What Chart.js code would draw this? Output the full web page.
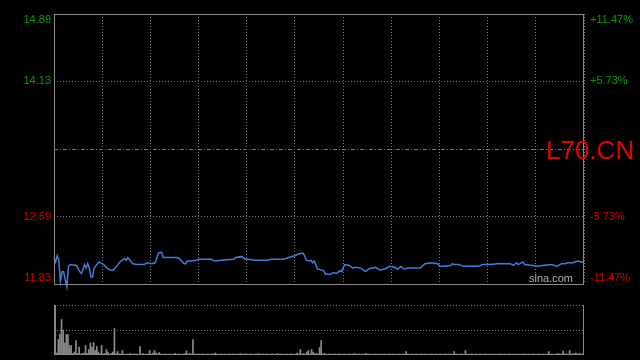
<!DOCTYPE html>
<html>
<head>
<meta charset="utf-8">
<script src="https://cdn.jsdelivr.net/npm/chart.js@4.4.1/dist/chart.umd.min.js"></script>
<style>
  body { margin: 0; background: #000; }
  #wrap { position: relative; width: 640px; height: 360px; background: #000; }
  canvas { position: absolute; left: 0; top: 0; }
</style>
</head>
<body>
<div id="wrap">
  <canvas id="priceChart" width="640" height="360"></canvas>
  <canvas id="volChart" width="640" height="360"></canvas>
</div>
<script>
// intraday minutes (0 = open, 330 = close) and prices
const priceMinutes = [
  0, 1, 2, 3, 4, 5, 6, 7, 8, 9, 10, 14, 16, 17, 18, 19, 20, 21, 22, 23, 24, 25, 28, 31, 33, 35, 37, 39, 41, 44,
  45, 46, 49, 52, 56, 58, 61, 63, 65, 67, 68, 76, 78, 81, 82, 83, 85, 89, 90, 93, 98, 100, 104, 112, 113, 117, 119, 121, 125, 133,
  135, 143, 146, 150, 152, 155, 156, 157, 159, 160, 161, 162, 163, 164, 166, 168, 169, 172, 174, 176, 178, 179, 181, 184, 186, 188, 191, 194, 196, 200,
  203, 206, 209, 212, 214, 216, 218, 221, 228, 231, 235, 239, 240, 243, 247, 248, 249, 252, 255, 260, 264, 267, 272, 276, 284, 286, 288, 289, 292, 293,
  298, 301, 304, 310, 313, 316, 318, 320, 323, 326, 328, 330
];
const priceValues = [
  12.13, 12.08, 12.15, 12.10, 11.86, 11.97, 11.97, 11.88, 11.80, 12.03, 12.05, 12.04, 11.97, 11.95, 11.99, 12.05, 12.01, 12.06, 12.01, 11.91, 11.91, 12.01, 12.08, 12.05, 12.01, 11.99, 11.99, 12.03, 12.08, 12.12,
  12.10, 12.13, 12.06, 12.05, 12.05, 12.07, 12.06, 12.07, 12.18, 12.19, 12.13, 12.13, 12.12, 12.06, 12.06, 12.09, 12.09, 12.10, 12.11, 12.11, 12.11, 12.09, 12.10, 12.11, 12.13, 12.14, 12.11, 12.11, 12.10, 12.10,
  12.11, 12.11, 12.13, 12.15, 12.17, 12.18, 12.15, 12.10, 12.09, 12.10, 12.07, 12.09, 12.05, 12.00, 11.99, 11.98, 11.94, 11.94, 11.96, 11.95, 11.98, 11.97, 12.05, 12.04, 12.01, 12.02, 12.01, 11.97, 12.00, 12.02,
  11.99, 12.00, 12.03, 12.02, 12.00, 12.03, 12.00, 12.01, 12.01, 12.06, 12.07, 12.06, 12.03, 12.03, 12.04, 12.06, 12.05, 12.05, 12.03, 12.03, 12.03, 12.05, 12.05, 12.06, 12.06, 12.04, 12.07, 12.05, 12.08, 12.05,
  12.04, 12.03, 12.04, 12.05, 12.03, 12.06, 12.06, 12.07, 12.07, 12.09, 12.08, 12.08
];

// volume per minute, relative (first minute = 100)
const volumes = [
  100, 4, 31, 42, 71, 50, 24, 41, 41, 19, 19, 3, 6, 29, 3, 16, 2, 3, 4, 19, 3, 11, 24, 16, 25, 9, 17, 6, 3, 19,
  2, 3, 11, 6, 2, 3, 6, 53, 3, 7, 2, 2, 9, 2, 1, 2, 2, 3, 1, 2, 2, 2, 1, 17, 2, 3, 2, 1, 2, 9,
  2, 4, 9, 4, 2, 5, 2, 1, 2, 2, 1, 2, 2, 1, 2, 3, 1, 2, 2, 1, 2, 3, 8, 2, 3, 2, 31, 2, 1, 2,
  2, 1, 2, 2, 1, 2, 2, 1, 2, 2, 4, 2, 1, 2, 2, 1, 2, 1, 2, 2, 1, 2, 2, 1, 2, 2, 3, 1, 2, 2,
  2, 1, 2, 2, 1, 2, 2, 3, 1, 2, 2, 1, 2, 2, 1, 2, 2, 1, 2, 3, 1, 2, 2, 1, 2, 2, 1, 2, 2, 1,
  2, 4, 2, 11, 2, 3, 2, 6, 9, 2, 11, 6, 2, 3, 2, 15, 29, 2, 3, 2, 1, 2, 2, 1, 2, 2, 1, 2, 2, 1,
  2, 2, 1, 2, 2, 1, 2, 3, 1, 2, 2, 1, 2, 2, 3, 1, 2, 2, 1, 2, 2, 1, 2, 2, 1, 2, 2, 1, 2, 2,
  1, 2, 2, 1, 2, 2, 1, 2, 2, 7, 2, 1, 2, 2, 1, 2, 2, 1, 2, 2, 1, 2, 2, 1, 2, 2, 1, 2, 2, 1,
  2, 2, 1, 2, 2, 1, 2, 2, 1, 7, 2, 2, 1, 2, 2, 1, 9, 2, 1, 2, 2, 1, 2, 2, 1, 2, 2, 1, 2, 2,
  1, 2, 2, 1, 2, 2, 1, 2, 2, 1, 2, 2, 1, 2, 2, 1, 2, 2, 1, 2, 2, 1, 2, 2, 1, 2, 2, 1, 2, 2,
  1, 2, 2, 1, 2, 2, 1, 2, 7, 2, 2, 1, 2, 2, 3, 2, 2, 8, 2, 2, 2, 9, 2, 2, 3, 4, 2, 3, 2, 2,
  3
];

const prevClose = 13.36;
const priceTicks = [14.89, 14.13, 13.36, 12.59, 11.83];
const priceLabels = ['14.89', '14.13', '', '12.59', '11.83'];
const pctLabels = ['+11.47%', '+5.73%', '', '-5.73%', '-11.47%'];

const GREEN = '#00a000';
const RED = '#dd0000';
const GRID = '#7a7a7a';
const FONT = '11px "Liberation Sans", Arial, sans-serif';

function zeroWidth(s) { s.width = 0; }
function zeroHeight(s) { s.height = 0; }

const priceDecor = {
  id: 'priceDecor',
  afterDraw(chart) {
    const c = chart.ctx, a = chart.chartArea, y = chart.scales.y;
    c.save();
    // frame
    c.strokeStyle = '#8a8a8a';
    c.lineWidth = 1;
    c.strokeRect(a.left + 0.5, a.top + 0.5, a.right - a.left - 1, a.bottom - a.top);
    // previous close line
    const mid = Math.round(y.getPixelForValue(prevClose)) + 0.5;
    c.setLineDash([4, 2, 1, 2]);
    c.strokeStyle = GRID;
    c.beginPath(); c.moveTo(a.left, mid); c.lineTo(a.right, mid); c.stroke();
    c.setLineDash([]);
    // tick labels
    c.font = FONT;
    c.textBaseline = 'middle';
    priceTicks.forEach((v, i) => {
      if (!priceLabels[i]) return;
      let py = y.getPixelForValue(v);
      py = Math.min(Math.max(py, a.top + 6), a.bottom - 6);
      c.fillStyle = v > prevClose ? GREEN : RED;
      c.textAlign = 'right';
      c.fillText(priceLabels[i], a.left - 3, py);
      c.textAlign = 'left';
      c.fillText(pctLabels[i], a.right + 6, py);
    });
    // watermarks
    c.fillStyle = '#e60000';
    c.font = '26px "Liberation Sans", Arial, sans-serif';
    c.textAlign = 'left';
    c.textBaseline = 'alphabetic';
    c.fillText('L70.CN', a.right - 38, mid + 9);
    c.fillStyle = '#b0b0b0';
    c.font = '11px "Liberation Sans", Arial, sans-serif';
    c.textAlign = 'right';
    c.fillText('sina.com', a.right - 11, a.bottom - 2);
    c.restore();
  }
};

const volFrame = {
  id: 'volFrame',
  afterDraw(chart) {
    const c = chart.ctx, a = chart.chartArea;
    c.save();
    c.strokeStyle = '#8a8a8a';
    c.lineWidth = 1;
    c.beginPath();
    c.moveTo(a.left + 0.5, a.top);
    c.lineTo(a.left + 0.5, a.bottom - 0.5);
    c.lineTo(a.right - 0.5, a.bottom - 0.5);
    c.lineTo(a.right - 0.5, a.top);
    c.stroke();
    c.restore();
  }
};

new Chart(document.getElementById('priceChart'), {
  type: 'line',
  data: {
    datasets: [{
      data: priceMinutes.map((m, i) => ({ x: m, y: priceValues[i] })),
      borderColor: '#3f7ede',
      borderWidth: 1.5,
      pointRadius: 0,
      tension: 0,
      clip: false
    }]
  },
  options: {
    responsive: false,
    animation: false,
    layout: { padding: { left: 54, right: 56, top: 14, bottom: 76 } },
    plugins: { legend: { display: false }, tooltip: { enabled: false } },
    scales: {
      x: {
        type: 'linear', min: 0, max: 330,
        afterFit: zeroHeight,
        ticks: { display: false, stepSize: 30 },
        grid: { color: GRID, drawTicks: false, lineWidth: 1 },
        border: { display: false, dash: [1, 2] }
      },
      y: {
        min: 11.83, max: 14.89,
        afterFit: zeroWidth,
        afterBuildTicks: s => { s.ticks = priceTicks.map(v => ({ value: v })); },
        ticks: { display: false },
        grid: {
          color: ctx => (ctx.tick && ctx.tick.value === prevClose) ? 'rgba(0,0,0,0)' : GRID,
          drawTicks: false
        },
        border: { display: false, dash: [1, 2] }
      }
    }
  },
  plugins: [priceDecor]
});

new Chart(document.getElementById('volChart'), {
  type: 'bar',
  data: {
    datasets: [{
      data: volumes.map((v, i) => ({ x: i, y: v })),
      backgroundColor: '#8c8c8c',
      barThickness: 1
    }]
  },
  options: {
    responsive: false,
    animation: false,
    layout: { padding: { left: 54, right: 56, top: 305, bottom: 5 } },
    plugins: { legend: { display: false }, tooltip: { enabled: false } },
    scales: {
      x: {
        type: 'linear', min: -0.7, max: 330, offset: false,
        afterFit: zeroHeight,
        ticks: { display: false },
        grid: { display: false },
        border: { display: false }
      },
      y: {
        min: 0, max: 100,
        afterFit: zeroWidth,
        afterBuildTicks: s => { s.ticks = [{ value: 50 }, { value: 100 }]; },
        ticks: { display: false },
        grid: { color: GRID, drawTicks: false },
        border: { display: false, dash: [1, 2] }
      }
    }
  },
  plugins: [volFrame]
});
</script>
</body>
</html>
